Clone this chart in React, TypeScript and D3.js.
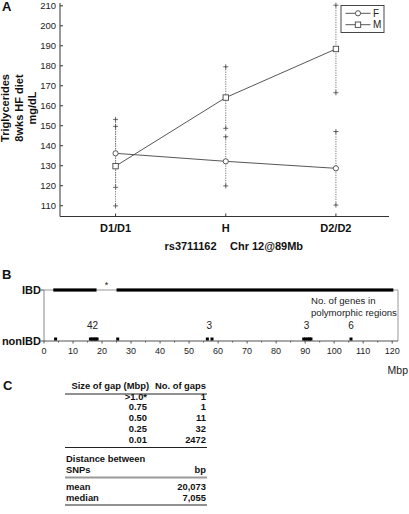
import React from "react";
import * as d3 from "d3";

// ---------- Panel A data ----------
const categories = ["D1/D1", "H", "D2/D2"];
const femaleMean = [136.2, 132.2, 128.7];
const femaleErr = [17.0, 12.3, 18.4];
const maleMean = [129.8, 164.1, 188.4];
const maleErr = [19.9, 15.4, 21.9];
const yTicks = [110, 120, 130, 140, 150, 160, 170, 180, 190, 200, 210];
const seriesNames = ["F", "M"];

// ---------- Panel B data ----------
const ibdSegments: [number, number][] = [
  [3.2, 18.1],
  [25.0, 120.4],
];
const nonIbdPositions = [4.0, 16.0, 16.6, 17.2, 17.8, 18.3, 25.4, 56.3, 57.9, 89.5, 90.2, 90.9, 91.5, 92.0, 105.8];
const geneCountPositions = [16.7, 57.0, 90.5, 105.8];
const geneCountLabels = ["42", "3", "3", "6"];
const mbpTicks = [0, 10, 20, 30, 40, 50, 60, 70, 80, 90, 100, 110, 120];
const mbpMinorTicks = [5, 15, 25, 35, 45, 55, 65, 75, 85, 95, 105, 115];

// ---------- Panel C data ----------
const gapSizes = [">1.0*", "0.75", "0.50", "0.25", "0.01"];
const gapCounts = ["1", "1", "11", "32", "2472"];
const distLabels = ["mean", "median"];
const distValues = ["20,073", "7,055"];

const FONT = "'Liberation Sans', Arial, sans-serif";
const INK = "#333";

export default function App() {
  // Panel A scales
  const x = d3.scalePoint<string>().domain(categories).range([60.5, 391]).padding(0.5);
  const y = d3.scaleLinear().domain([104.6, 211.4]).range([216.5, 3]);
  const line = d3
    .line<number>()
    .x((_, i) => x(categories[i]) as number)
    .y((d) => y(d));

  // Panel B scale
  const xb = d3.scaleLinear().domain([0, 122]).range([44, 398]);
  const ibdY = 290;
  const nonY = 341;

  const plus = (cx: number, cy: number, key: string) => (
    <g key={key} stroke="#444" strokeWidth={0.8}>
      <line x1={cx - 2.5} x2={cx + 2.5} y1={cy} y2={cy} />
      <line x1={cx} x2={cx} y1={cy - 2.5} y2={cy + 2.5} />
    </g>
  );

  const errorBars = (means: number[], errs: number[], tag: string) =>
    means.map((m, i) => {
      const cx = x(categories[i]) as number;
      const y1 = y(m + errs[i]);
      const y2 = y(m - errs[i]);
      return (
        <g key={tag + i}>
          <line x1={cx} x2={cx} y1={y1} y2={y2} stroke="#777" strokeWidth={1} strokeDasharray="1.2,1.2" />
          {plus(cx, y1, tag + "u" + i)}
          {plus(cx, y2, tag + "l" + i)}
        </g>
      );
    });

  const circle = (cx: number, cy: number, key: string) => (
    <circle key={key} cx={cx} cy={cy} r={2.6} fill="white" stroke="#444" strokeWidth={0.9} />
  );
  const square = (cx: number, cy: number, key: string) => (
    <rect key={key} x={cx - 2.7} y={cy - 2.7} width={5.4} height={5.4} fill="white" stroke="#444" strokeWidth={0.9} />
  );

  // Table layout
  const tLeft = 65;
  const tRight = 207;
  const col1Right = 147;
  const col2Right = 206;
  const rowBase = [399.5, 410.3, 421.1, 431.9, 442.7];

  return (
    <svg
      width={409}
      height={514}
      style={{ position: "fixed", left: 0, top: 0, background: "white" }}
      fontFamily={FONT}
    >
      <rect width={409} height={514} fill="white" />

      {/* ================= Panel A ================= */}
      <text x={2} y={11} fontSize={13} fontWeight="bold" fill="#111">A</text>

      {/* y-axis label */}
      <g transform="translate(0,108)" fontSize={11} fontWeight="bold" fill="#111" textAnchor="middle">
        <text transform="translate(9,0) rotate(-90)">Triglycerides</text>
        <text transform="translate(22.5,0) rotate(-90)">8wks HF diet</text>
        <text transform="translate(35.5,0) rotate(-90)">mg/dL</text>
      </g>

      {/* axes */}
      <line x1={60} x2={60} y1={3} y2={216.5} stroke={INK} strokeWidth={1} />
      <line x1={60} x2={389} y1={216.5} y2={216.5} stroke={INK} strokeWidth={1} />
      {yTicks.map((t) => (
        <g key={"yt" + t}>
          <line x1={60} x2={63} y1={y(t)} y2={y(t)} stroke={INK} />
          <text x={56} y={y(t) + 3.4} fontSize={9.5} textAnchor="end" fill="#222">{t}</text>
        </g>
      ))}
      {categories.map((c) => (
        <g key={"xt" + c}>
          <line x1={x(c) as number} x2={x(c) as number} y1={216.5} y2={213.5} stroke={INK} />
          <text x={x(c) as number} y={232} fontSize={11} fontWeight="bold" textAnchor="middle" fill="#111">{c}</text>
        </g>
      ))}
      <text x={216.5} y={250} fontSize={11} fontWeight="bold" textAnchor="end" fill="#111">rs3711162</text>
      <text x={230} y={250} fontSize={11} fontWeight="bold" fill="#111">Chr 12@89Mb</text>

      {/* error bars */}
      {errorBars(femaleMean, femaleErr, "f")}
      {errorBars(maleMean, maleErr, "m")}

      {/* lines */}
      <path d={line(femaleMean) || ""} fill="none" stroke="#444" strokeWidth={0.9} />
      <path d={line(maleMean) || ""} fill="none" stroke="#444" strokeWidth={0.9} />
      {femaleMean.map((m, i) => circle(x(categories[i]) as number, y(m), "fc" + i))}
      {maleMean.map((m, i) => square(x(categories[i]) as number, y(m), "ms" + i))}

      {/* legend */}
      <rect x={341} y={5.5} width={43} height={27} fill="white" stroke={INK} strokeWidth={0.9} />
      {seriesNames.map((s, i) => {
        const ly = 13.3 + i * 11.4;
        return (
          <g key={"lg" + s}>
            <line x1={345.5} x2={370.5} y1={ly} y2={ly} stroke="#444" strokeWidth={0.9} />
            {i === 0 ? circle(358, ly, "lc") : square(358, ly, "ls")}
            <text x={373} y={ly + 3.6} fontSize={10} fill="#222">{s}</text>
          </g>
        );
      })}

      {/* ================= Panel B ================= */}
      <text x={2} y={279} fontSize={13} fontWeight="bold" fill="#111">B</text>
      <text x={41} y={ibdY + 4} fontSize={11} fontWeight="bold" textAnchor="end" fill="#111">IBD</text>
      <text x={41} y={nonY + 4} fontSize={11} fontWeight="bold" textAnchor="end" fill="#111">nonIBD</text>

      {/* frame */}
      <line x1={xb(0)} x2={xb(122)} y1={ibdY} y2={ibdY} stroke="#999" strokeWidth={1} />
      <line x1={xb(122)} x2={xb(122)} y1={ibdY} y2={nonY} stroke="#999" strokeWidth={1} />
      <line x1={xb(0)} x2={xb(0)} y1={ibdY} y2={nonY} stroke="#888" strokeWidth={1} />
      <line x1={xb(0) - 3} x2={xb(0)} y1={ibdY} y2={ibdY} stroke="#555" />
      <line x1={xb(0) - 3} x2={xb(0)} y1={nonY} y2={nonY} stroke="#555" />
      <line x1={xb(0)} x2={xb(122)} y1={nonY} y2={nonY} stroke="#555" strokeWidth={1} />
      {mbpTicks.map((t) => (
        <g key={"bt" + t}>
          <line x1={xb(t)} x2={xb(t)} y1={nonY} y2={nonY + 2.5} stroke="#555" />
          <text x={xb(t)} y={nonY + 13} fontSize={9} textAnchor="middle" fill="#222">{t}</text>
        </g>
      ))}
      {mbpMinorTicks.map((t) => (
        <line key={"bm" + t} x1={xb(t)} x2={xb(t)} y1={nonY} y2={nonY + 1.5} stroke="#555" />
      ))}

      {ibdSegments.map(([a, b], i) => (
        <rect key={"ibd" + i} x={xb(a)} y={ibdY - 1.6} width={xb(b) - xb(a)} height={3.2} fill="#000" />
      ))}
      <text x={xb(21.5)} y={288} fontSize={9} textAnchor="middle" fill="#222">*</text>

      {nonIbdPositions.map((p, i) => (
        <rect key={"nb" + i} x={xb(p) - 1.5} y={nonY - 3.5} width={3} height={3} fill="#000" />
      ))}
      {geneCountPositions.map((p, i) => (
        <text key={"gc" + i} x={xb(p)} y={328.5} fontSize={10} textAnchor="middle" fill="#222">{geneCountLabels[i]}</text>
      ))}
      <text x={311} y={303.5} fontSize={9.6} fill="#222">No. of genes in</text>
      <text x={311} y={315.5} fontSize={9.6} fill="#222">polymorphic regions</text>
      <text x={408} y={373.5} fontSize={10.5} textAnchor="end" fill="#222">Mbp</text>

      {/* ================= Panel C ================= */}
      <text x={3} y={390} fontSize={13} fontWeight="bold" fill="#111">C</text>
      <g fontSize={9.4} fontWeight="bold" fill="#111">
        <text x={71.5} y={388.5}>Size of gap (Mbp)</text>
        <text x={col2Right} y={388.5} textAnchor="end">No. of gaps</text>
        <line x1={tLeft} x2={tRight} y1={394} y2={394} stroke="#222" strokeWidth={1} />
        {gapSizes.map((g, i) => (
          <g key={"gr" + i}>
            <text x={col1Right} y={rowBase[i]} textAnchor="end">{g}</text>
            <text x={col2Right} y={rowBase[i]} textAnchor="end">{gapCounts[i]}</text>
          </g>
        ))}
        <line x1={tLeft} x2={tRight} y1={447.5} y2={447.5} stroke="#222" strokeWidth={1.2} />
        <text x={tLeft + 1} y={462}>Distance between</text>
        <text x={tLeft + 1} y={473}>SNPs</text>
        <text x={col2Right} y={473} textAnchor="end">bp</text>
        <line x1={tLeft} x2={tRight} y1={477.5} y2={477.5} stroke="#999" strokeWidth={2} />
        {distLabels.map((d, i) => (
          <g key={"dr" + i}>
            <text x={tLeft + 1} y={490 + i * 11}>{d}</text>
            <text x={col2Right} y={490 + i * 11} textAnchor="end">{distValues[i]}</text>
          </g>
        ))}
        <line x1={tLeft} x2={tRight} y1={505} y2={505} stroke="#222" strokeWidth={1} />
      </g>
    </svg>
  );
}
